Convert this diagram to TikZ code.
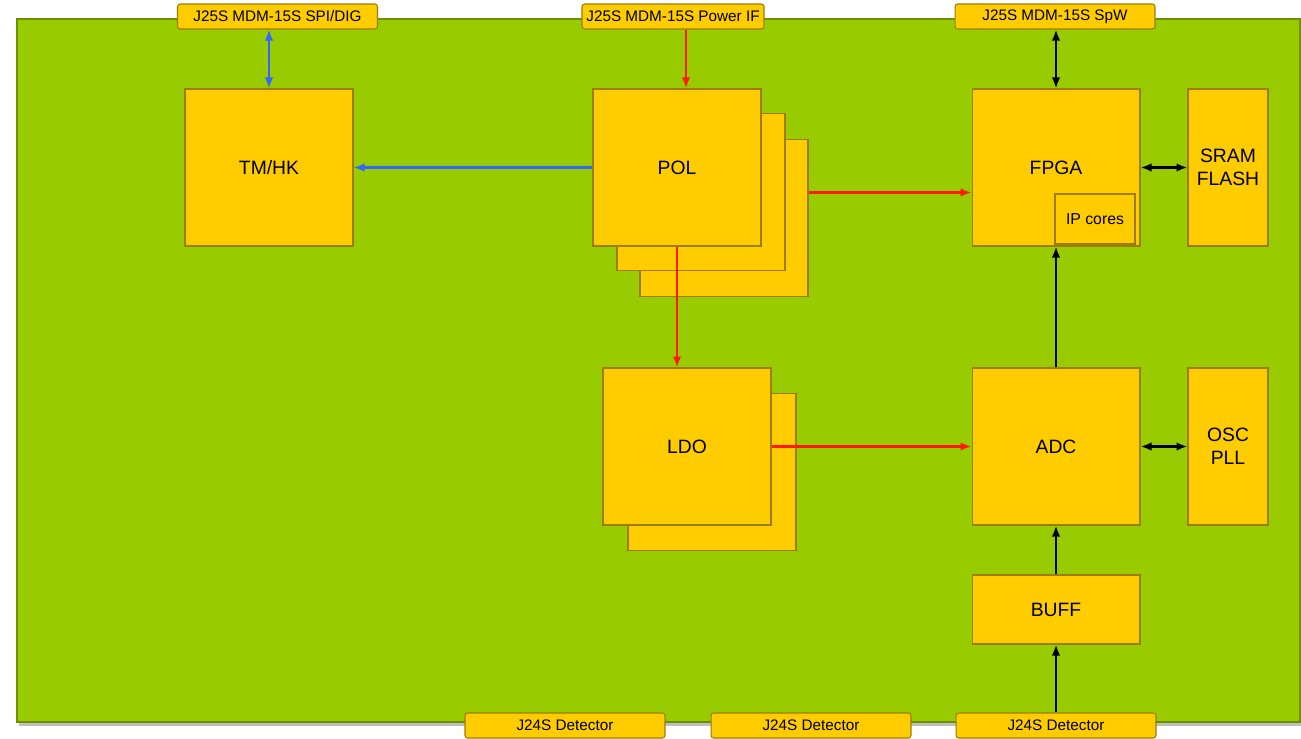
\documentclass[tikz,border=0pt]{standalone}
\usepackage{fontspec}
\setmainfont{Liberation Sans}
\usetikzlibrary{arrows.meta,positioning,shadows}
\definecolor{boardgreen}{HTML}{99CC00}
\definecolor{boardedge}{HTML}{6E8F00}
\definecolor{unitfill}{HTML}{FFCC00}
\definecolor{unitedge}{HTML}{9C7D00}
\definecolor{sigblue}{HTML}{3366FF}
\definecolor{pwrred}{HTML}{FF1A00}
\begin{document}
\begin{tikzpicture}[x=0.02cm,y=-0.02cm,>={Latex[length=2.2mm,width=1.7mm]},
  unit/.style={draw=unitedge,fill=unitfill,line width=0.6pt,inner sep=0pt,
    minimum width=3.36cm,minimum height=3.14cm,font=\fontsize{11}{13}\selectfont},
  side/.style={unit,minimum width=1.6cm,align=center},
  plug/.style={draw=unitedge,fill=unitfill,line width=0.6pt,rounded corners=1.5pt,
    inner sep=0pt,minimum width=4cm,minimum height=0.5cm,font=\fontsize{8.7}{10}\selectfont},
  sig/.style={sigblue,line width=1.2pt},
  pwr/.style={pwrred,line width=1.2pt},
  dat/.style={black,line width=1.2pt}]
  \useasboundingbox (0,0) rectangle (1301,738);

  % board
  \fill[black!25] (19,22) rectangle (1303,726);
  \draw[boardedge,fill=boardgreen,line width=0.6pt] (17,19) rectangle (1300,722);

  % connectors
  \node[plug] (spidig) at (277.5,16.5) {J25S MDM-15S SPI/DIG};
  \node[plug,minimum width=3.64cm] (pwrif) at (673,16.5) {J25S MDM-15S Power IF};
  \node[plug] (spw) at (1055,16.5) {J25S MDM-15S SpW};
  \node[plug] (det1) at (565,725.5) {J24S Detector};
  \node[plug] (det2) at (811,725.5) {J24S Detector};
  \node[plug] (det3) at (1056,725.5) {J24S Detector};

  % units
  \node[unit] (tmhk) at (269,167.5) {TM/HK};
  \node[unit] (pol3) at (724,218) {};
  \node[unit] (pol2) at (701,192) {};
  \node[unit] (pol) at (677,167.5) {POL};
  \node[unit] (ldo2) at (712,472) {};
  \node[unit] (ldo) at (687,446.5) {LDO};
  \node[unit] (fpga) at (1056,167.5) {FPGA};
  \node[unit,minimum width=1.6cm,minimum height=1cm,font=\fontsize{9}{11}\selectfont,
    drop shadow={shadow xshift=0.6pt,shadow yshift=-0.6pt,opacity=0.35}]
    (ipcores) at (1095,219) {IP cores};
  \node[side] (sram) at (1228,167.5) {SRAM\\FLASH};
  \node[unit] (adc) at (1056,446.5) {ADC};
  \node[side] (osc) at (1228,446.5) {OSC\\PLL};
  \node[unit,minimum height=1.38cm] (buff) at (1056,609.5) {BUFF};

  % power
  \coordinate (feed) at ([xshift=0.18cm]pol.north);
  \coordinate (fpgain) at ([yshift=-0.5cm]fpga.west);
  \draw[pwr,->] (pwrif.south -| feed) -- (feed);
  \draw[pwr,->] (pol3.east |- fpgain) -- (fpgain);
  \draw[pwr,->] (pol.south) -- (pol.south |- ldo.north);
  \draw[pwr,->] (ldo.east) -- (adc.west);

  % signals
  \draw[sig,<->] (spidig.south -| tmhk.north) -- (tmhk.north);
  \draw[sig,->] (pol.west) -- (tmhk.east);
  \draw[dat,<->] (spw.south -| fpga.north) -- (fpga.north);
  \draw[dat,<->] (fpga.east) -- (sram.west);
  \draw[dat,<->] (adc.east) -- (osc.west);
  \draw[dat,->] (adc.north) -- (fpga.south);
  \draw[dat,->] (buff.north) -- (adc.south);
  \draw[dat,->] (det3.north) -- (buff.south);
\end{tikzpicture}
\end{document}
